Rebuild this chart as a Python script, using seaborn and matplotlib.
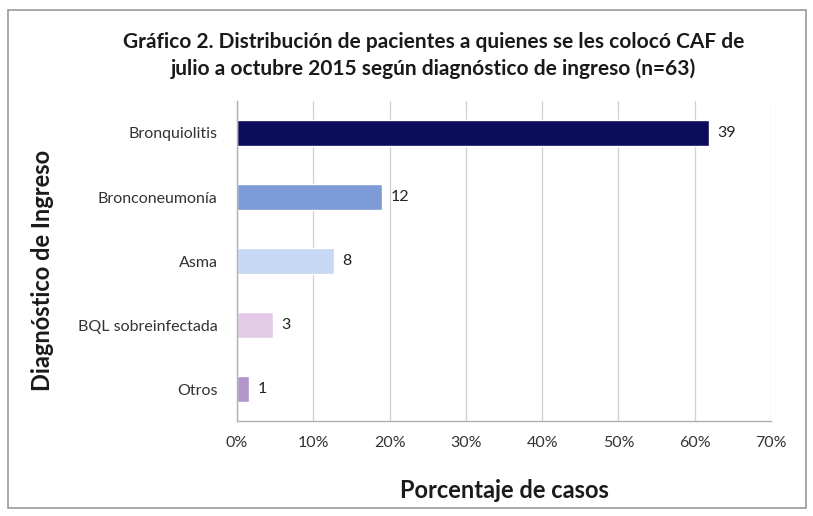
import matplotlib
matplotlib.use("Agg")
import matplotlib.pyplot as plt
import seaborn as sns
import pandas as pd
from matplotlib.ticker import FuncFormatter, FixedLocator
from matplotlib.patches import Rectangle

categories = ["Bronquiolitis", "Bronconeumonía", "Asma", "BQL sobreinfectada", "Otros"]
counts = [39, 12, 8, 3, 1]
n_total = 63
colors = ["#0c0c5c", "#7d9bd6", "#c6d8f3", "#e3cbe8", "#b196c9"]
xticks = [0, 10, 20, 30, 40, 50, 60, 70]

df = pd.DataFrame({"cat": categories, "count": counts})
df["pct"] = df["count"] / n_total * 100

sns.set_theme(style="white")
plt.rcParams["font.family"] = ["Lato", "DejaVu Sans"]

fig = plt.figure(figsize=(8.13, 5.16), dpi=100)
ax = fig.add_axes([0.2915, 0.184, 0.9483 - 0.2915, 0.8043 - 0.184])

sns.barplot(data=df, y="cat", x="pct", hue="cat", palette=colors, order=categories,
            hue_order=categories, orient="h", width=0.4, legend=False, ax=ax, saturation=1)

for i, (p, c) in enumerate(zip(df["pct"], df["count"])):
    ax.text(p + 1.1, i, str(c), va="center", ha="left", fontsize=11.5, color="#222222")

ax.set_xlim(0, 70)
ax.set_ylim(4.5, -0.5)
ax.xaxis.set_major_locator(FixedLocator(xticks))
ax.xaxis.set_major_formatter(FuncFormatter(lambda v, _: f"{int(round(v))}%"))
ax.grid(axis="x", color="#d0d0d0", linewidth=0.9)
ax.set_axisbelow(True)
for s in ["top", "right"]:
    ax.spines[s].set_visible(False)
for s in ["left", "bottom"]:
    ax.spines[s].set_color("#b0b0b0")
    ax.spines[s].set_linewidth(1.0)
ax.tick_params(axis="x", which="major", direction="inout", length=5, color="#b0b0b0",
               labelsize=11.5, labelcolor="#333333", pad=8)
ax.tick_params(axis="y", which="major", length=0, labelsize=11.5, labelcolor="#333333", pad=14)
ax.set_yticks(range(len(categories)))
ax.set_yticks([-0.5, 0.5, 1.5, 2.5, 3.5, 4.5], minor=True)
ax.tick_params(axis="y", which="minor", direction="out", length=4, color="#b0b0b0")

ax.set_xlabel("Porcentaje de casos", fontsize=17, fontweight="bold", color="#1a1a1a", labelpad=21)
ax.set_ylabel("Diagnóstico de Ingreso", fontsize=17, fontweight="bold", color="#1a1a1a")
ax.yaxis.set_label_coords(-0.342, 0.47)

fig.text(0.533, 0.893, "Gráfico 2. Distribución de pacientes a quienes se les colocó CAF de\n"
         "julio a octubre 2015 según diagnóstico de ingreso (n=63)",
         ha="center", va="center", fontsize=15, fontweight="bold", color="#1a1a1a",
         linespacing=1.4)

fig.patches.append(Rectangle((0.010, 0.015), 0.982, 0.965, transform=fig.transFigure,
                             fill=False, edgecolor="#9a9a9a", linewidth=1.2))

fig.savefig("out.png", dpi=100)
